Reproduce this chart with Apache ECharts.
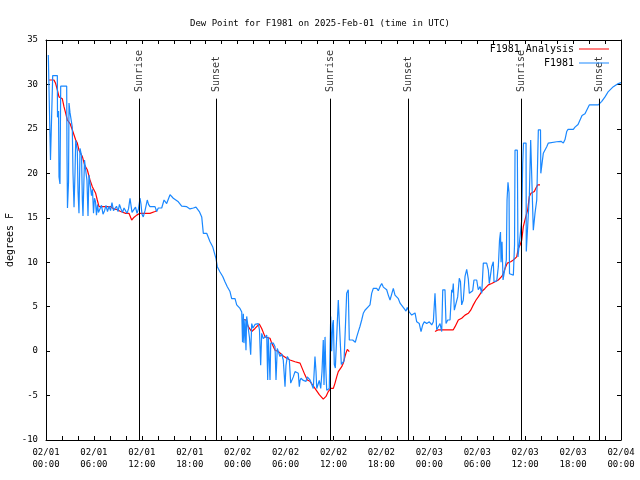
<!DOCTYPE html>
<html><head><meta charset="utf-8">
<script src="https://cdn.jsdelivr.net/npm/echarts@6/dist/echarts.min.js"></script>
<style>html,body{margin:0;padding:0;background:#fff}#c{width:640px;height:480px}</style>
</head><body><div id="c"></div>
<script>
const xTickLabels = ['02/01\n00:00','02/01\n06:00','02/01\n12:00','02/01\n18:00','02/02\n00:00','02/02\n06:00','02/02\n12:00','02/02\n18:00','02/03\n00:00','02/03\n06:00','02/03\n12:00','02/03\n18:00','02/04\n00:00'];
const sunEventNames = ['Sunrise','Sunset','Sunrise','Sunset','Sunrise','Sunset'];
const sunEventHours = [11.68,21.29,35.56,45.37,59.48,69.28];

// [hours since 02/01 00:00 UTC, dew point F]
const f1981Analysis = [
[0.38,30.5],[1.00,30.5],[1.21,30.1],[1.42,29.4],[1.63,28.6],[2.04,28.4],[2.25,27.5],[2.47,26.75],[2.67,26],[3.01,25.6],[3.29,24.9],[3.72,23.75],[3.92,23.4],[4.13,22.6],[4.55,21.9],[4.85,20.9],[5.17,20.4],[5.51,19.25],[5.80,18.5],[6.22,17.75],[6.42,17],[6.64,16.25],[8.10,16.25],[8.51,16],[8.93,15.9],[9.35,15.7],[9.98,15.5],[10.39,15.5],[10.73,14.75],[10.96,15.0],[11.36,15.3],[11.77,15.5],[13.02,15.5],[13.24,15.6],[13.65,15.7],[13.90,15.8],
[19.0,null],
[24.63,3.6],[25.04,3.5],[25.33,2.75],[25.76,2.2],[26.17,2.55],[26.71,3.05],[27.01,2.55],[27.43,1.6],[27.64,1.45],[28.05,1.45],[28.26,0.9],[28.68,0.1],[29.09,-0.05],[29.71,-0.55],[30.14,-0.8],[30.55,-1.0],[31.18,-1.2],[31.81,-1.35],[32.02,-1.55],[32.43,-2.7],[32.72,-3.25],[33.06,-3.4],[33.68,-4.2],[34.22,-4.9],[34.72,-5.4],[35.06,-5.1],[35.35,-4.55],[35.65,-4.2],[35.98,-4.2],[36.19,-3.6],[36.40,-2.9],[36.60,-2.3],[36.81,-2.1],[37.03,-1.75],[37.23,-1.35],[37.44,-0.6],[37.57,-0.2],[37.73,0.2],[37.98,-0.05],
[43.0,null],
[48.71,2.2],[49.12,2.4],[51.00,2.4],[51.22,2.75],[51.63,3.5],[52.05,3.7],[52.47,4.05],[52.88,4.25],[53.18,4.6],[53.51,5.2],[53.85,5.75],[54.13,6.1],[54.56,6.7],[54.97,7.05],[55.39,7.45],[55.81,7.6],[56.23,7.8],[56.64,8],[57.07,8.4],[57.27,8.75],[57.48,9.3],[57.77,9.9],[58.19,10.05],[58.52,10.25],[58.94,10.6],[59.14,11.55],[59.35,11.9],[59.57,12.5],[59.77,14],[60.07,15.1],[60.32,15.9],[60.52,17.4],[60.73,17.75],[61.15,17.95],[61.32,18.3],[61.57,18.7],[61.86,18.7]
];

const f1981 = [
[0.29,33.3],[0.50,33.3],[0.56,21.5],[0.79,21.5],[0.84,31],[1.42,31],[1.44,26.3],[1.57,27],[1.63,19.6],[1.75,18.8],[1.84,29.8],[2.59,29.8],[2.63,22],[2.69,16.1],[2.82,19],[2.88,27.9],[3.01,26.8],[3.29,25.2],[3.38,20],[3.51,16.2],[3.63,20],[3.72,23.7],[3.92,22.6],[4.01,18],[4.13,15.5],[4.26,22.8],[4.45,22],[4.55,17],[4.63,15.2],[4.82,21.5],[4.95,20.5],[5.13,19.2],[5.26,15.2],[5.38,19.8],[5.57,19.8],[5.70,17.5],[5.82,18.2],[5.95,15.5],[6.07,17.2],[6.20,16.8],[6.32,15.3],[6.45,16.5],[6.57,15.6],[6.76,15.6],[6.95,16.4],[7.14,15.4],[7.33,15.8],[7.51,16.4],[7.70,15.7],[7.89,16.3],[8.08,15.8],[8.26,16.7],[8.45,15.8],[8.64,15.8],[8.83,16.3],[9.02,15.7],[9.20,16.5],[9.39,16.0],[9.58,15.6],[9.77,16.1],[9.95,15.9],[10.14,15.5],[10.33,16.0],[10.52,17.2],[10.71,17.2],[10.77,15.6],[11.02,15.6],[11.21,16.2],[11.40,15.5],[11.58,16.0],[11.77,17.2],[11.90,16.5],[12.02,15.4],[12.18,15.1],[12.40,15.8],[12.68,17],[12.84,16.5],[13.02,16.25],[13.65,16.25],[13.86,15.7],[14.06,16.1],[14.49,16.1],[14.78,17],[15.11,16.6],[15.53,17.6],[15.94,17.2],[16.57,16.8],[16.99,16.3],[17.62,16.25],[18.03,16],[18.45,16.1],[18.78,16.2],[19.20,15.7],[19.50,15.1],[19.70,13.25],[20.12,13.25],[20.54,12.3],[20.87,11.75],[21.04,11.2],[21.29,10.4],[21.45,9.5],[21.79,8.9],[22.13,8.4],[22.41,7.8],[22.70,7.25],[23.04,6.7],[23.25,5.9],[23.67,5.9],[23.88,5.2],[24.29,4.8],[24.51,4.4],[24.61,1.0],[24.71,4.2],[24.79,0.9],[24.92,3.6],[25.04,0.1],[25.13,3.9],[25.29,2.8],[25.48,1.5],[25.63,-0.4],[25.76,3.1],[25.92,2.6],[26.17,3.0],[26.58,3.1],[26.73,2.4],[26.88,-1.6],[27.01,2.0],[27.21,1.4],[27.64,1.8],[27.76,-3.25],[27.84,1.6],[28.05,-3.25],[28.14,0.9],[28.46,0.9],[28.68,0.5],[28.80,-3.25],[28.96,0.3],[29.30,-0.6],[29.51,-0.3],[29.71,-1.0],[29.93,-4],[30.05,-1.6],[30.22,-0.6],[30.47,-1.0],[30.64,-3.6],[30.77,-3.7],[30.97,-2.9],[31.18,-2.3],[31.39,-2.3],[31.59,-2.5],[31.72,-4],[31.81,-3.3],[31.93,-3.05],[32.22,-3.3],[32.56,-3.4],[32.72,-2.9],[33.06,-3.25],[33.27,-3.4],[33.47,-4.2],[33.68,-0.6],[33.81,-2.3],[33.90,-4.2],[34.10,-4.2],[34.22,-3.3],[34.40,-4.2],[34.56,-2.3],[34.72,1.25],[34.81,-3.8],[34.94,1.6],[35.02,-1.5],[35.15,-4.4],[35.35,-4.2],[35.47,-4.2],[35.65,3.9],[35.77,0],[35.90,3.1],[35.98,3.5],[36.10,-1.5],[36.23,-1.9],[36.40,-1.75],[36.60,5.75],[36.81,5.9],[36.98,-1.5],[37.15,-1.3],[37.32,-1.1],[37.48,2.5],[37.65,6.5],[37.85,6.9],[37.98,1.25],[38.15,1.1],[38.40,1.25],[38.57,1.1],[38.73,1.0],[38.91,1.6],[39.11,2.2],[39.32,2.8],[39.53,3.5],[39.73,4.25],[39.94,4.6],[40.16,4.8],[40.57,5.2],[40.78,6.5],[40.98,7.05],[41.20,6.9],[41.41,7.05],[41.61,6.8],[41.82,7.25],[42.04,7.6],[42.24,7.2],[42.45,7.05],[42.66,6.9],[42.86,6.3],[43.08,5.75],[43.29,5.75],[43.49,7.05],[43.70,6.3],[43.91,6.3],[44.12,5.9],[44.33,5.4],[44.54,5.4],[44.83,4.8],[45.08,4.5],[45.24,4.9],[45.49,4.4],[45.79,4.05],[46.21,4.3],[46.42,3.3],[46.74,3.1],[46.96,2.2],[47.17,2.95],[47.37,3.3],[47.67,3.1],[48.00,3.3],[48.30,2.95],[48.50,3.3],[48.71,6.5],[48.87,6.5],[48.92,2.4],[49.12,2.6],[49.34,3.1],[49.55,2.2],[49.68,6.9],[49.96,6.9],[50.09,3.1],[50.30,3.5],[50.59,3.5],[50.80,6.9],[50.90,6.6],[51.00,7.6],[51.13,4.6],[51.34,4.7],[51.55,6.1],[51.75,8.2],[51.90,7.8],[52.05,5.2],[52.25,5.75],[52.47,8.4],[52.68,9.2],[52.88,8.1],[53.01,6.5],[53.22,6.5],[53.43,6.8],[53.59,8.0],[53.93,8.0],[54.13,6.9],[54.35,7.25],[54.56,6.5],[54.76,9.9],[54.97,10.0],[55.18,9.9],[55.39,9.1],[55.51,7.6],[55.81,9.5],[56.01,10.05],[56.10,7.8],[56.44,7.9],[56.64,9.5],[56.79,12.5],[56.91,13.4],[56.98,10],[57.10,12.3],[57.23,8.0],[57.48,8.0],[57.64,10.25],[57.73,17],[57.85,19],[57.98,17.8],[58.04,8.7],[58.23,8.6],[58.52,8.55],[58.67,12],[58.73,22.6],[59.02,22.6],[59.10,10.6],[59.35,10.4],[59.57,14.75],[59.69,21.1],[59.79,23.4],[60.11,23.4],[60.14,11.2],[60.39,11.2],[60.52,17.4],[60.69,23.75],[60.86,23.75],[61.02,13.6],[61.23,15.5],[61.45,17],[61.65,24.9],[61.92,24.9],[61.96,20],[62.11,21.1],[62.27,22.25],[62.70,23],[62.90,23.4],[63.95,23.55],[64.11,23.4],[64.49,23.6],[64.78,23.4],[64.99,23.8],[65.20,24.7],[65.37,24.95],[66.03,24.95],[66.24,25.2],[66.62,25.5],[66.87,26],[67.12,26.5],[67.49,26.7],[67.74,26.9],[68.03,27.7],[68.37,27.7],[69.16,27.7],[69.37,27.9],[69.59,28.1],[70.00,28.6],[70.41,29.2],[71.04,29.75],[71.66,30.1],[72.00,30.2]
];

const FONT = 'DejaVu Sans Mono';
const sunLineTop = 28.4;
const sunLabelBase = 29.15;

const chart = echarts.init(document.getElementById('c'), null, {renderer: 'canvas'});
const axisCommon = {
  type: 'value',
  axisLine: {show: true, onZero: false, lineStyle: {color: '#000', width: 1}},
  axisTick: {show: true, inside: true, length: 4, lineStyle: {color: '#000'}},
  splitLine: {show: false}
};
chart.setOption({
  animation: false,
  backgroundColor: '#fff',
  title: {
    text: 'Dew Point for F1981 on 2025-Feb-01 (time in UTC)',
    left: 'center', top: 14,
    textStyle: {fontFamily: FONT, fontSize: 9, fontWeight: 'normal', color: '#000'}
  },
  legend: {
    data: [{name: 'F1981 Analysis', icon: 'rect'}, {name: 'F1981', icon: 'rect'}],
    orient: 'vertical', right: 31, top: 43, align: 'right',
    itemWidth: 30, itemHeight: 1, itemGap: 2, padding: 0,
    textStyle: {fontFamily: FONT, fontSize: 10, color: '#000', lineHeight: 12}
  },
  grid: {left: 46, right: 19, top: 40, bottom: 40, containLabel: false, outerBoundsMode: 'none'},
  xAxis: [
    Object.assign({}, axisCommon, {
      min: 0, max: 72, interval: 2, position: 'bottom',
      axisLabel: {
        fontFamily: FONT, fontSize: 9, color: '#000', margin: 7, lineHeight: 12,
        showMinLabel: true, showMaxLabel: true,
        formatter: v => (v % 6 === 0 ? xTickLabels[v / 6] : '')
      }
    }),
    Object.assign({}, axisCommon, {
      min: 0, max: 72, interval: 2, position: 'top', axisLabel: {show: false}
    })
  ],
  yAxis: [
    Object.assign({}, axisCommon, {
      min: -10, max: 35, interval: 5, position: 'left',
      name: 'degrees F', nameLocation: 'middle', nameGap: 31, nameRotate: 90,
      nameMoveOverlap: false,
      nameTextStyle: {fontFamily: FONT, fontSize: 10, color: '#000'},
      axisLabel: {fontFamily: FONT, fontSize: 9, color: '#000', margin: 8}
    }),
    Object.assign({}, axisCommon, {
      min: -10, max: 35, interval: 5, position: 'right', axisLabel: {show: false}
    })
  ],
  series: [
    {
      name: 'sun', type: 'scatter', symbolSize: 0, silent: true,
      data: sunEventHours.map((h, i) => ({name: sunEventNames[i], value: [h, sunLabelBase]})),
      label: {
        show: true, formatter: '{b}', rotate: 90, position: 'inside',
        align: 'left', verticalAlign: 'middle',
        fontFamily: FONT, fontSize: 10, color: '#000'
      },
      markLine: {
        silent: true, symbol: ['none', 'none'], animation: false,
        label: {show: false},
        lineStyle: {color: '#000', width: 1, type: 'solid'},
        data: sunEventHours.map(h => [{coord: [h, sunLineTop]}, {coord: [h, -10]}])
      }
    },
    {
      name: 'F1981 Analysis', type: 'line', symbol: 'none', connectNulls: false,
      data: f1981Analysis.map(p => [p[0], p[1] === null ? '-' : p[1]]),
      lineStyle: {color: '#ff0000', width: 1.2}, itemStyle: {color: '#ff0000'}
    },
    {
      name: 'F1981', type: 'line', symbol: 'none',
      data: f1981,
      lineStyle: {color: '#1a88ff', width: 1.2}, itemStyle: {color: '#1a88ff'}
    }
  ]
});
</script>
</body></html>
